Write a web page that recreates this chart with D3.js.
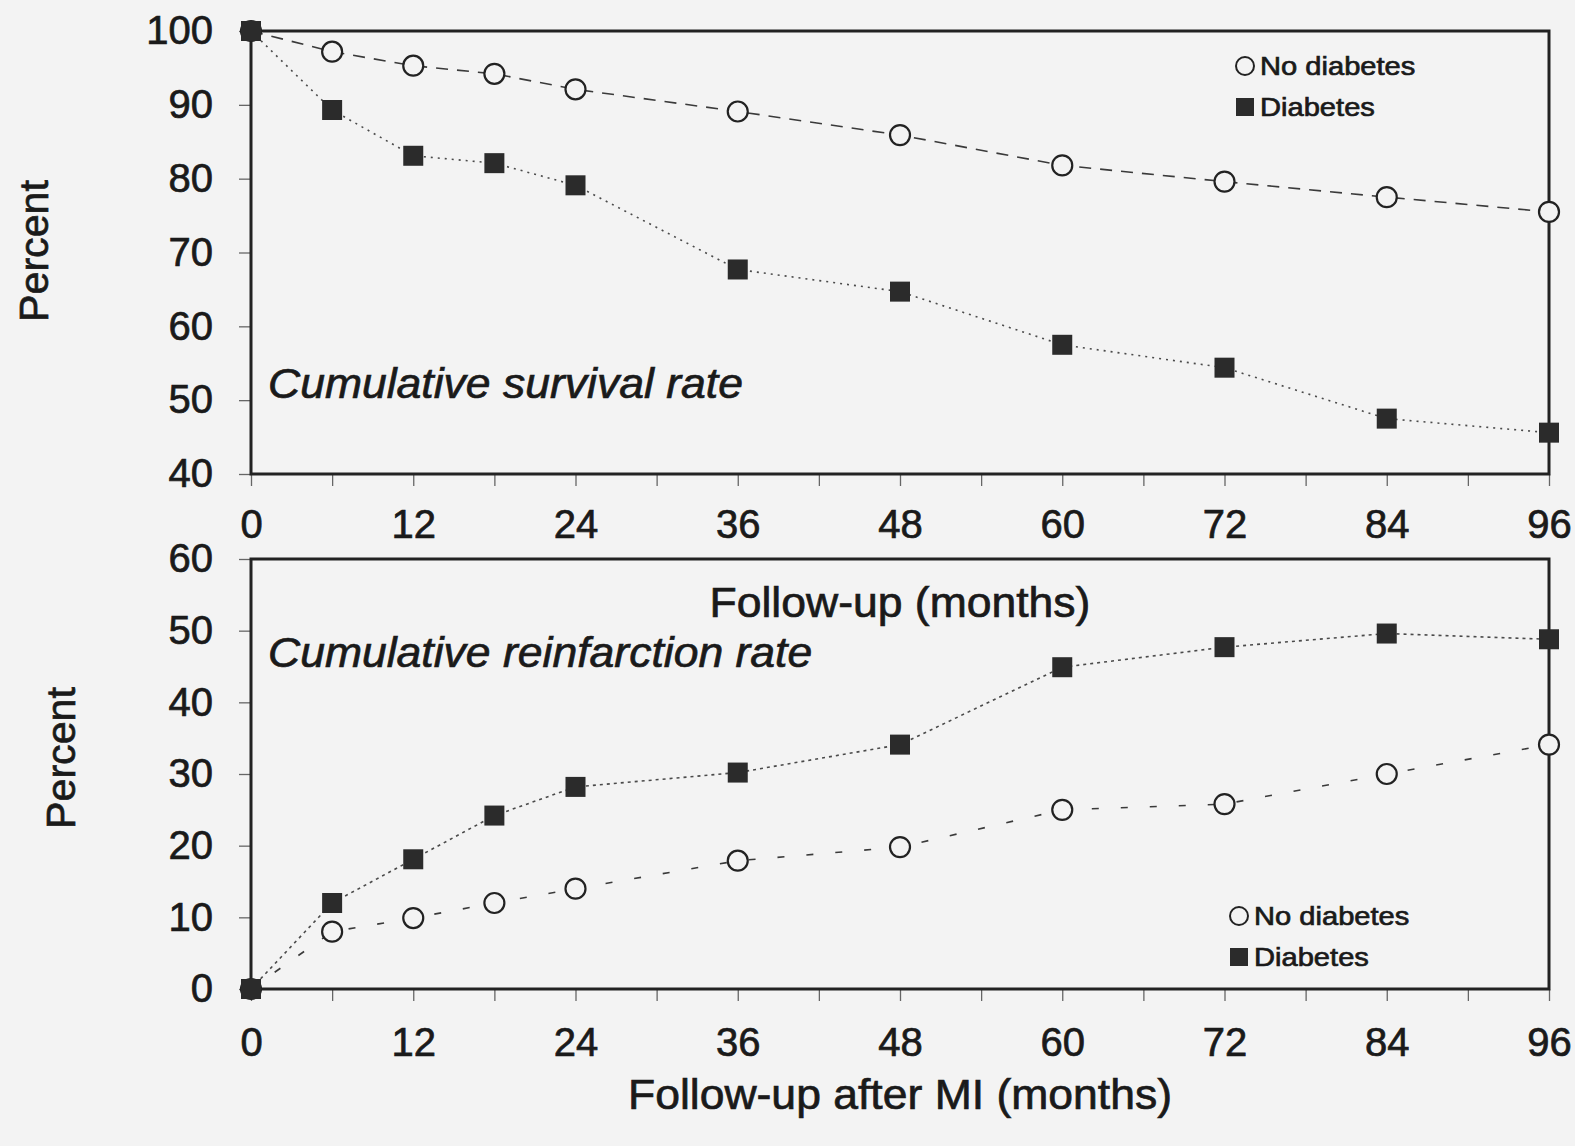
<!DOCTYPE html>
<html>
<head>
    <title>Survival and reinfarction after MI</title>
    <style type="text/css">
      body {
          margin: 0;
          background: #f3f3f3;
      }
      text {
          font-family: "Liberation Sans", Arial, Helvetica, sans-serif;
          fill: #1a1a1a;
      }
      .frame {
          fill: none;
          stroke: #222;
          stroke-width: 3px;
      }
      .tick line {
          stroke: #666;
          stroke-width: 1.3px;
      }
      .tick text {
          font-size: 40px;
          fill: #1a1a1a;
          stroke: #1a1a1a;
          stroke-width: 0.7px;
      }
      .domain {
          display: none;
      }
    </style>
</head>
<body>
    <div id="chart"></div>
    <script src="https://d3js.org/d3.v7.min.js"></script>
    <script>

      var width = 1575,
          height = 1146;

      // follow-up months where the points were measured
      var months = [0, 6, 12, 18, 24, 36, 48, 60, 72, 84, 96];

      // cumulative survival rate (%)
      var survivalNoDiabetes = [100, 97.2, 95.3, 94.2, 92.1, 89.1, 85.9, 81.8, 79.6, 77.5, 75.5];
      var survivalDiabetes   = [100, 89.3, 83.1, 82.1, 79.1, 67.7, 64.7, 57.5, 54.4, 47.5, 45.6];

      // cumulative reinfarction rate (%)
      var reinfNoDiabetes = [0, 8.0, 9.9, 12.0, 14.0, 17.9, 19.8, 25.0, 25.8, 30.0, 34.1];
      var reinfDiabetes   = [0, 12.0, 18.1, 24.2, 28.2, 30.2, 34.1, 44.9, 47.7, 49.6, 48.8];

      // tick labels
      var monthLabels = [0, 12, 24, 36, 48, 60, 72, 84, 96];
      var monthMinor = [0, 6, 12, 18, 24, 30, 36, 42, 48, 54, 60, 66, 72, 78, 84, 90, 96];
      var survivalTicks = [40, 50, 60, 70, 80, 90, 100];
      var reinfTicks = [0, 10, 20, 30, 40, 50, 60];

      var svg = d3.select("#chart")
          .append("svg")
          .attr("width", width)
          .attr("height", height);

      svg.append("rect")
          .attr("width", width)
          .attr("height", height)
          .attr("fill", "#f3f3f3");

      var x = d3.scaleLinear().domain([0, 96]).range([251, 1549]);
      var yTop = d3.scaleLinear().domain([40, 100]).range([474, 31]);
      var yBot = d3.scaleLinear().domain([0, 60]).range([989, 559]);

      // plain text helper, slightly widened like the scanned type
      function label(txt, px, py, size, opts) {
        opts = opts || {};
        var g = svg.append("g")
            .attr("transform", "translate(" + px + "," + py + ")" + (opts.rotate ? " rotate(" + opts.rotate + ")" : ""));
        return g.append("text")
            .attr("transform", "scale(" + (opts.sx || 1) + ",1)")
            .attr("text-anchor", opts.anchor || "start")
            .attr("font-size", size)
            .attr("font-style", opts.italic ? "italic" : "normal")
            .attr("stroke", "#1a1a1a")
            .attr("stroke-width", 0.7)
            .text(txt);
      }

      function drawPanel(y, ticks, noDia, dia, dashNo, dashDia, labelPad) {
        var y0 = y.range()[0], y1 = y.range()[1];

        // minor ticks along the bottom, every 6 months
        svg.append("g")
            .attr("transform", "translate(0," + y0 + ")")
            .call(d3.axisBottom(x).tickValues(monthMinor).tickSize(12).tickFormat(""));

        // month labels
        svg.append("g")
            .attr("transform", "translate(0," + y0 + ")")
            .call(d3.axisBottom(x).tickValues(monthLabels).tickSize(0).tickPadding(labelPad));

        // percent axis
        svg.append("g")
            .attr("transform", "translate(" + x(0) + ",0)")
            .call(d3.axisLeft(y).tickValues(ticks).tickSize(12).tickPadding(26));

        svg.append("rect")
            .attr("class", "frame")
            .attr("x", x(0))
            .attr("y", y1)
            .attr("width", x(96) - x(0))
            .attr("height", y0 - y1);

        var line = d3.line()
            .x(function (d) { return x(d[0]); })
            .y(function (d) { return y(d[1]); });

        var ptsNo = months.map(function (m, i) { return [m, noDia[i]]; });
        var ptsDia = months.map(function (m, i) { return [m, dia[i]]; });

        svg.append("path")
            .datum(ptsNo)
            .attr("d", line)
            .attr("fill", "none")
            .attr("stroke", "#3a3a3a")
            .attr("stroke-width", 1.6)
            .attr("stroke-dasharray", dashNo);

        svg.append("path")
            .datum(ptsDia)
            .attr("d", line)
            .attr("fill", "none")
            .attr("stroke", "#4a4a4a")
            .attr("stroke-width", 1.6)
            .attr("stroke-dasharray", dashDia);

        svg.append("g").selectAll("circle")
            .data(ptsNo)
            .enter().append("circle")
            .attr("cx", function (d) { return x(d[0]); })
            .attr("cy", function (d) { return y(d[1]); })
            .attr("r", 10)
            .attr("fill", "#f3f3f3")
            .attr("stroke", "#222")
            .attr("stroke-width", 2.2);

        svg.append("g").selectAll("rect")
            .data(ptsDia)
            .enter().append("rect")
            .attr("x", function (d) { return x(d[0]) - 10; })
            .attr("y", function (d) { return y(d[1]) - 10; })
            .attr("width", 20)
            .attr("height", 20)
            .attr("fill", "#2b2b2b");
      }

      drawPanel(yTop, survivalTicks, survivalNoDiabetes, survivalDiabetes, "12,9", "2,5", 36);
      drawPanel(yBot, reinfTicks, reinfNoDiabetes, reinfDiabetes, "7,22", "3,4", 39);

      function legend(cx, cy) {
        svg.append("circle")
            .attr("cx", cx).attr("cy", cy).attr("r", 9)
            .attr("fill", "#f3f3f3").attr("stroke", "#222").attr("stroke-width", 2);
        label("No diabetes", cx + 15, cy + 9, 26, { sx: 1.12 });
        svg.append("rect")
            .attr("x", cx - 9).attr("y", cy + 41 - 9)
            .attr("width", 18).attr("height", 18)
            .attr("fill", "#2b2b2b");
        label("Diabetes", cx + 15, cy + 50, 26, { sx: 1.12 });
      }
      legend(1245, 66);
      legend(1239, 916);

      label("Cumulative survival rate", 268, 398, 42, { italic: true, sx: 1.06 });
      label("Cumulative reinfarction rate", 268, 667, 42, { italic: true, sx: 1.06 });
      label("Follow-up (months)", 900, 617, 42, { anchor: "middle", sx: 1.06 });
      label("Follow-up after MI (months)", 900, 1109, 42, { anchor: "middle", sx: 1.06 });
      label("Percent", 48, 251, 40, { anchor: "middle", rotate: -90, sx: 1.03 });
      label("Percent", 75, 758, 40, { anchor: "middle", rotate: -90, sx: 1.03 });
    </script>
</body>
</html>
